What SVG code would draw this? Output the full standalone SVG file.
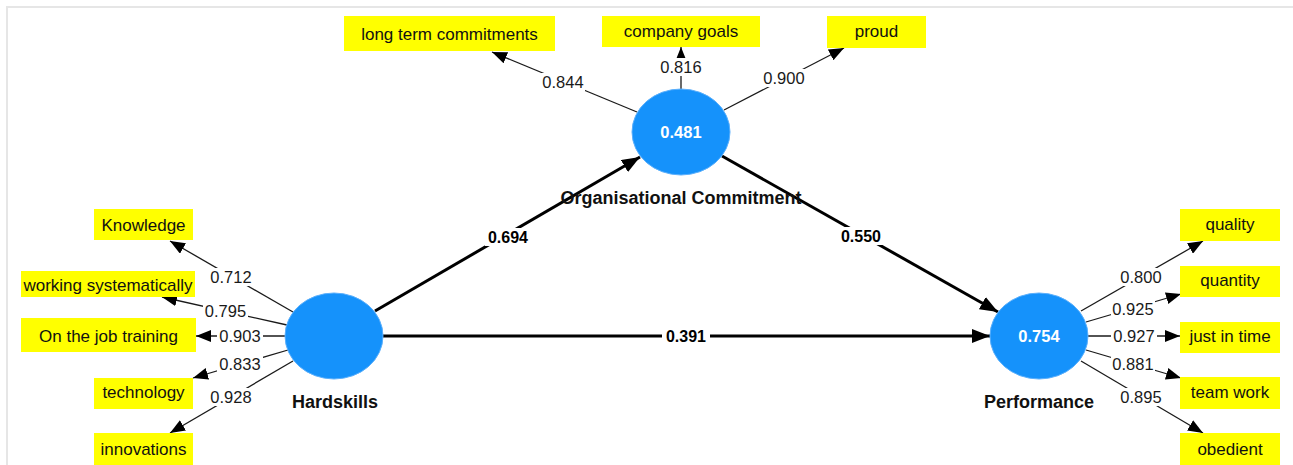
<svg xmlns="http://www.w3.org/2000/svg" width="1293" height="465" viewBox="0 0 1293 465">
  <style>
    .frame { stroke: #e6e6e6; stroke-width: 2; fill: none; }
    .ind { fill: #ffff00; }
    .indt { font-family: "Liberation Sans", Arial, sans-serif; font-size: 17px; fill: #111111; text-anchor: middle; }
    .lv { fill: #1592fb; stroke: #5aaffc; stroke-width: 1; }
    .lvv { font-family: "Liberation Sans", Arial, sans-serif; font-size: 16.5px; font-weight: bold; fill: #ffffff; text-anchor: middle; }
    .lvn { font-family: "Liberation Sans", Arial, sans-serif; font-size: 18px; font-weight: bold; fill: #111111; text-anchor: middle; }
    .load { stroke: #1a1a1a; stroke-width: 1.3; fill: none; marker-end: url(#head); }
    .path { stroke: #000000; stroke-width: 3; fill: none; marker-end: url(#headBold); }
    .bg { fill: #ffffff; }
    .w { font-family: "Liberation Sans", Arial, sans-serif; font-size: 16.5px; fill: #1a1a1a; text-anchor: middle; }
    .wb { font-family: "Liberation Sans", Arial, sans-serif; font-size: 16px; font-weight: bold; fill: #000000; text-anchor: middle; }
  </style>
  <defs>
    <marker id="head" markerUnits="userSpaceOnUse" markerWidth="15" markerHeight="12" refX="15" refY="6" orient="auto">
      <path d="M0,0 L15,6 L0,12 z" fill="#000000"/>
    </marker>
    <marker id="headBold" markerUnits="userSpaceOnUse" markerWidth="18" markerHeight="14" refX="18" refY="7" orient="auto">
      <path d="M0,0 L18,7 L0,14 z" fill="#000000"/>
    </marker>
  </defs>

  <rect width="1293" height="465" fill="#ffffff"/>
  <path class="frame" d="M7,465 L7,7 L1293,7"/>

  <!-- connectors -->
  <g id="connectors">
    <!-- Hardskills indicators -->
    <line class="load" x1="293" y1="312" x2="170" y2="241"/>
    <line class="load" x1="287" y1="325" x2="162" y2="297"/>
    <line class="load" x1="285" y1="336" x2="196" y2="336"/>
    <line class="load" x1="288" y1="350" x2="193" y2="378"/>
    <line class="load" x1="293" y1="361" x2="170" y2="433"/>
    <!-- Performance indicators -->
    <line class="load" x1="1081" y1="311" x2="1203" y2="241"/>
    <line class="load" x1="1086" y1="322" x2="1181" y2="294"/>
    <line class="load" x1="1088" y1="336" x2="1180" y2="336"/>
    <line class="load" x1="1086" y1="350" x2="1181" y2="378"/>
    <line class="load" x1="1081" y1="361" x2="1203" y2="433"/>
    <!-- Organisational Commitment indicators -->
    <line class="load" x1="637" y1="112" x2="492" y2="52"/>
    <line class="load" x1="681" y1="89" x2="681" y2="47"/>
    <line class="load" x1="724" y1="110" x2="844" y2="48"/>
    <!-- structural paths -->
    <line class="path" x1="375" y1="311" x2="640" y2="157"/>
    <line class="path" x1="722" y1="156" x2="998" y2="312"/>
    <line class="path" x1="383" y1="336" x2="990" y2="336"/>

    <!-- loading labels -->
    <rect class="bg" x="209" y="268" width="44" height="18"/><text class="w" x="231" y="283">0.712</text>
    <rect class="bg" x="203" y="303" width="45" height="18"/><text class="w" x="225.5" y="317">0.795</text>
    <rect class="bg" x="217" y="327" width="46" height="18"/><text class="w" x="240" y="342">0.903</text>
    <rect class="bg" x="217" y="355" width="46" height="18"/><text class="w" x="240" y="370">0.833</text>
    <rect class="bg" x="209" y="388" width="44" height="18"/><text class="w" x="231" y="403">0.928</text>

    <rect class="bg" x="1119" y="268" width="44" height="18"/><text class="w" x="1141" y="283">0.800</text>
    <rect class="bg" x="1111" y="300" width="44" height="18"/><text class="w" x="1133" y="315">0.925</text>
    <rect class="bg" x="1111" y="327" width="46" height="18"/><text class="w" x="1134" y="342">0.927</text>
    <rect class="bg" x="1111" y="355" width="44" height="18"/><text class="w" x="1133" y="370">0.881</text>
    <rect class="bg" x="1119" y="388" width="44" height="18"/><text class="w" x="1141" y="403">0.895</text>

    <rect class="bg" x="541" y="73" width="44" height="18"/><text class="w" x="563" y="88">0.844</text>
    <rect class="bg" x="659" y="58" width="44" height="18"/><text class="w" x="681" y="73">0.816</text>
    <rect class="bg" x="762" y="69" width="44" height="18"/><text class="w" x="784" y="84">0.900</text>

    <!-- path coefficients -->
    <rect class="bg" x="485" y="228" width="46" height="18"/><text class="wb" x="508" y="243">0.694</text>
    <rect class="bg" x="838" y="227" width="46" height="18"/><text class="wb" x="861" y="242">0.550</text>
    <rect class="bg" x="662" y="328" width="48" height="18"/><text class="wb" x="686" y="342">0.391</text>
  </g>

  <!-- latent variables -->
  <g id="node-hardskills">
    <ellipse class="lv" cx="334" cy="336" rx="49" ry="43"/>
    <text class="lvn" x="335" y="408">Hardskills</text>
  </g>
  <g id="node-commitment">
    <ellipse class="lv" cx="681" cy="132" rx="49" ry="43"/>
    <text class="lvv" x="681" y="138">0.481</text>
    <text class="lvn" x="681" y="204">Organisational Commitment</text>
  </g>
  <g id="node-performance">
    <ellipse class="lv" cx="1039" cy="336" rx="49" ry="43"/>
    <text class="lvv" x="1039" y="342">0.754</text>
    <text class="lvn" x="1039" y="408">Performance</text>
  </g>

  <!-- indicators: Hardskills -->
  <g id="ind-knowledge"><rect class="ind" x="94" y="209" width="99" height="31"/><text class="indt" x="143.5" y="231">Knowledge</text></g>
  <g id="ind-working"><rect class="ind" x="21" y="271" width="174" height="26"/><text class="indt" x="108" y="291">working systematically</text></g>
  <g id="ind-training"><rect class="ind" x="21" y="318" width="175" height="34"/><text class="indt" x="108.5" y="342">On the job training</text></g>
  <g id="ind-technology"><rect class="ind" x="94" y="378" width="99" height="31"/><text class="indt" x="143.5" y="398">technology</text></g>
  <g id="ind-innovations"><rect class="ind" x="94" y="433" width="99" height="32"/><text class="indt" x="143.5" y="455">innovations</text></g>

  <!-- indicators: Performance -->
  <g id="ind-quality"><rect class="ind" x="1180" y="209" width="100" height="32"/><text class="indt" x="1230" y="230">quality</text></g>
  <g id="ind-quantity"><rect class="ind" x="1180" y="266" width="100" height="31"/><text class="indt" x="1230" y="286">quantity</text></g>
  <g id="ind-justintime"><rect class="ind" x="1180" y="322" width="100" height="31"/><text class="indt" x="1230" y="342">just in time</text></g>
  <g id="ind-teamwork"><rect class="ind" x="1180" y="377" width="100" height="32"/><text class="indt" x="1230" y="398">team work</text></g>
  <g id="ind-obedient"><rect class="ind" x="1180" y="433" width="100" height="32"/><text class="indt" x="1230" y="455">obedient</text></g>

  <!-- indicators: Organisational Commitment -->
  <g id="ind-longterm"><rect class="ind" x="344" y="16" width="211" height="35"/><text class="indt" x="449.5" y="40">long term commitments</text></g>
  <g id="ind-goals"><rect class="ind" x="602" y="16" width="158" height="31"/><text class="indt" x="681" y="37">company goals</text></g>
  <g id="ind-proud"><rect class="ind" x="827" y="16" width="99" height="32"/><text class="indt" x="876.5" y="37">proud</text></g>
</svg>
